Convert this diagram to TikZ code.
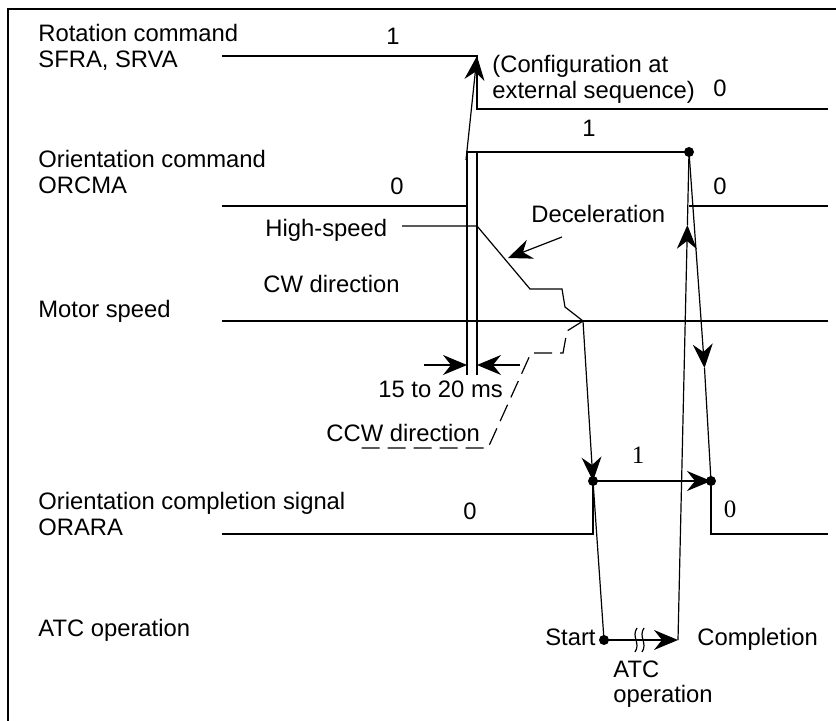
\documentclass[tikz,border=0pt]{standalone}
\usepackage{fontspec}
\setmainfont{Liberation Sans}
\newfontfamily\serifnum{Liberation Serif}
\usetikzlibrary{arrows.meta}
\begin{document}
\begin{tikzpicture}[x=0.5pt,y=-0.5pt,
  sig/.style={line width=0.6pt, line join=miter},
  frame/.style={line width=1.2pt},
  lbl/.style={anchor=base west, inner sep=0pt, font=\fontsize{11.9}{13}\selectfont, align=left},
  num/.style={anchor=base, inner sep=0pt, font=\fontsize{11.9}{13}\selectfont},
  snum/.style={anchor=base, inner sep=0pt, font=\serifnum\fontsize{12.5}{13}\selectfont},
  arr/.style={sig, -{Stealth[length=12pt,width=10pt,inset=4pt]}},
  dashline/.style={sig, dash pattern=on 9pt off 4pt},
  dotmark/.style={circle, fill, inner sep=0pt, minimum size=5pt},
]
\useasboundingbox (0,0) rectangle (836,721);
% frame
\coordinate (fa) at (836,9);
\coordinate (fb) at (8,9);
\coordinate (fc) at (8,721);
\draw[frame] (fa) -- (fb) -- (fc);

% ---- coordinates
% rotation command
\coordinate (r0) at (222,56);
\coordinate (r1) at (477,56);
\coordinate (r2) at (477,109);
\coordinate (r3) at (828,109);
% orientation command
\coordinate (o0) at (222,206);
\coordinate (o1) at (467,206);
\coordinate (o2) at (467,152);
\coordinate (o2b) at (477,152);
\node[dotmark] (o3) at (689,152) {};
\coordinate (o4) at (689,206);
\coordinate (o5) at (828,206);
\coordinate (t1) at (467,375);
\coordinate (t2) at (477,375);
\coordinate (a1) at (466,160);
% motor speed
\coordinate (m0) at (222,321);
\coordinate (m1) at (828,321);
\coordinate (h0) at (402,226);
\coordinate (h1) at (477,226);
\coordinate (h2) at (530,289);
\coordinate (h3) at (562,289);
\coordinate (h4) at (565,307);
\coordinate (ms) at (583,321);
\coordinate (c1) at (567,331);
\coordinate (c2) at (563,353);
\coordinate (c3) at (531,353);
\coordinate (c4) at (488,448);
\coordinate (c5) at (360,448);
% ORARA
\coordinate (q0) at (222,534);
\coordinate (q1) at (593,534);
\node[dotmark] (q2) at (593,481) {};
\node[dotmark] (q3) at (711,481) {};
\coordinate (q4) at (711,534);
\coordinate (q5) at (828,534);
% ATC
\node[dotmark] (s) at (604,640) {};
\coordinate (e) at (678,640);
\coordinate (u1) at (687.4,225);
\coordinate (d1) at (704.5,368);
% dimension
\coordinate (dl) at (424,365);
\coordinate (dlt) at (467,365);
\coordinate (dr) at (520,365);
\coordinate (drt) at (477,365);
% deceleration arrow
\coordinate (de0) at (562,237);
\coordinate (de1) at (508,258);

% ---- signals
\draw[sig] (r0) -- (r1) -- (r2) -- (r3);
\draw[sig] (o0) -- (o1);
\draw[sig] (t1) -- (o2) -- (o3.center);
\draw[sig] (o2b) -- (t2);
\draw[sig] (o4) -- (o5);
\draw[arr] (a1) -- (r1);
\draw[sig] (m0) -- (m1);
\draw[sig] (h0) -- (h1) -- (h2) -- (h3) -- (h4) -- (ms);
\draw[dashline] (ms) -- (c1) -- (c2) -- (c3) -- (c4) -- (c5);
\draw[arr] (ms) -- (q2.center);
\draw[sig] (q0) -- (q1) -- (q2.center);
\draw[arr] (q2.center) -- (q3.center);
\draw[sig] (q3.center) -- (q4) -- (q5);
\draw[sig] (q2.center) -- (s.center);
\draw[arr] (s.center) -- (e);
\draw[arr] (e) -- (u1);
\draw[sig] (u1) -- (o3.center);
\draw[arr] (o3.center) -- (d1);
\draw[sig] (d1) -- (q3.center);
\draw[arr] (dl) -- (dlt);
\draw[arr] (dr) -- (drt);
\draw[arr] (de0) -- (de1);
% break mark on ATC arrow
\foreach \bx in {636,643}{
  \draw[sig, fill=white] (\bx+1,628) .. controls (\bx-5,637) and (\bx+5,643) .. (\bx-1,652);
}

% ---- labels
\node[lbl] (lrot) at (38,68) {Rotation command\\SFRA, SRVA};
\node[lbl] (lorc) at (38,194) {Orientation command\\ORCMA};
\node[lbl] (lmot) at (38,318) {Motor speed};
\node[lbl] (lora) at (38,536) {Orientation completion signal\\ORARA};
\node[lbl] (latc) at (38,637) {ATC operation};
\node[num] (n1) at (393,45) {1};
\node[lbl] (lconf) at (492,99) {(Configuration at\\external sequence)};
\node[num] (n2) at (720,97) {0};
\node[num] (n3) at (589,137) {1};
\node[num] (n4) at (397,195) {0};
\node[num] (n5) at (720,195) {0};
\node[lbl] (ldec) at (531,223) {Deceleration};
\node[lbl] (lhs) at (265,237) {High-speed};
\node[lbl] (lcw) at (263,293) {CW direction};
\node[lbl] (lms) at (378,398) {15 to 20 ms};
\node[lbl] (lccw) at (326,442) {CCW direction};
\node[num] (n6) at (470,520) {0};
\node[snum] (n7) at (638,464) {1};
\node[snum] (n8) at (730,518) {0};
\node[lbl, anchor=base east] (lst) at (596,646) {Start};
\node[lbl] (lcomp) at (697,646) {Completion};
\node[lbl] (latc2) at (613,703) {ATC\\operation};
\end{tikzpicture}
\end{document}
